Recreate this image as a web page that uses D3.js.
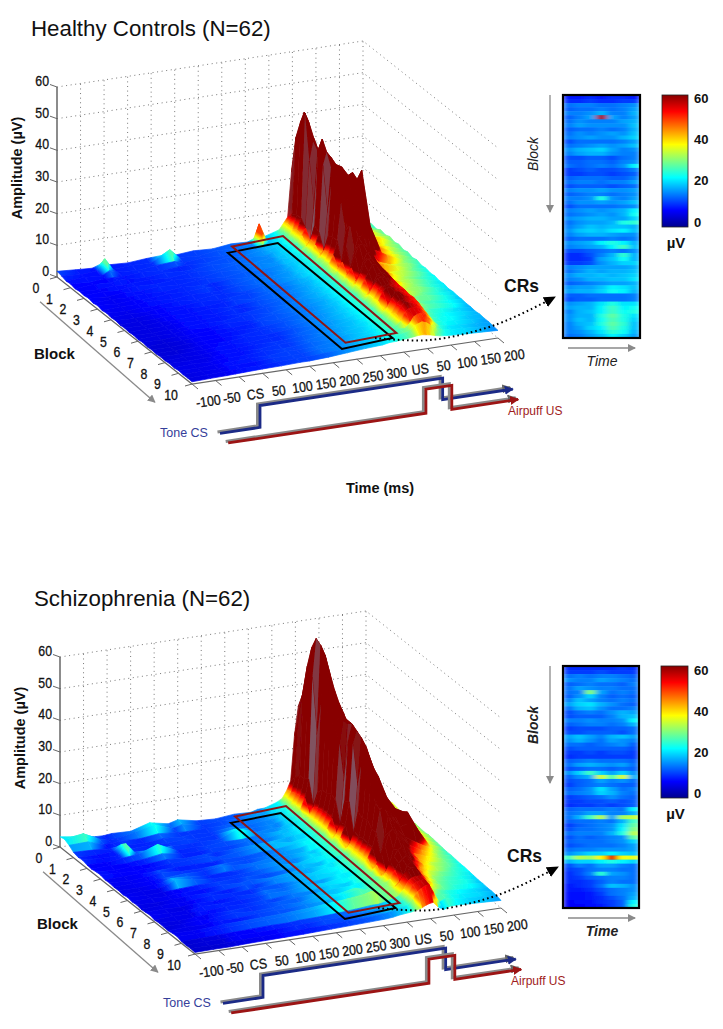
<!DOCTYPE html>
<html>
<head>
<meta charset="utf-8">
<script src="https://cdnjs.cloudflare.com/ajax/libs/d3/7.8.5/d3.min.js"></script>
<style>
  html, body { margin: 0; padding: 0; background: #fff; }
  text { font-family: "Liberation Sans", Arial, sans-serif; }
</style>
</head>
<body>
<div id="graph"></div>
<script>
// time positions of the surface columns, closer together where the response rises
const timeMs = [-100,-60,-25,-8,10,50,90,130,150,190,230,270,305,320,335,360,372,382,390,398,406,416,428,442,460,485,520,550];
// one row every third of a block
const blocks = [0,0.33,0.67,1,1.33,1.67,2,2.33,2.67,3,3.33,3.67,4,4.33,4.67,5,5.33,5.67,6,6.33,6.67,7,7.33,7.67,8,8.33,8.67,9,9.33,9.67,10];

const timeTicks = [-100,-50,0,50,100,150,200,250,300,350,400,450,500,550];
const timeTickLabels = ["-100","-50","CS","50","100","150","200","250","300","US","50","100","150","200"];
const blockTicks = [0,1,2,3,4,5,6,7,8,9,10];
const ampTicks = [0,10,20,30,40,50,60];
const barTicks = [0,20,40,60];

// amplitude surface, one row per block position
const controlsSurface = [
 [1.8,1.4,1.1,2.0,1.4,1.1,1.6,1.9,1.3,1.8,1.5,2.2,2.0,2.9,2.7,3.8,4.4,6.4,8,22,27,31,26,20,14,7,4.6,3.4],
 [1.5,0.9,1.3,4.8,1.0,1.5,1.2,4.6,1.7,1.3,2.0,1.8,2.6,8.5,3.1,3.2,5,7,10,34,36,30,29,25,12,7.8,5.2,3.9],
 [1.0,1.3,0.8,2.2,1.4,1.0,1.6,2.0,1.2,1.8,1.5,2.3,2.1,3.0,2.6,3.9,4.6,6.6,11,40,43,34,28,23,13,6.8,4.8,4.4],
 [1.2,0.8,1.2,1.1,1.0,1.5,1.1,1.5,1.6,1.3,2.0,1.9,2.7,2.4,3.2,3.4,5.2,7.4,11,44,41,36,31,26,11,7.6,5.6,4.0],
 [0.8,1.2,0.9,1.4,1.3,1.0,1.6,1.2,1.3,1.9,1.5,2.4,2.1,3.0,2.7,3.9,4.8,6.8,9,30,36,33,29,22,12.5,8.4,5.4,4.8],
 [1.1,0.7,1.3,1.0,1.1,1.4,1.1,1.6,1.7,1.2,2.1,1.8,2.6,2.5,3.3,3.3,3.8,4.6,6,16,34,34,30,25,11,7.4,6.2,4.4],
 [0.9,1.1,0.8,1.3,1.4,1.0,1.5,1.3,1.2,1.9,1.6,2.5,2.2,3.1,2.8,4.0,5.6,7.8,12,36,39,32,31,27,14,8.6,5.6,5.0],
 [1.2,0.7,1.2,0.9,1.0,1.5,1.0,1.6,1.7,1.3,2.1,1.9,2.7,2.4,3.3,3.5,5,7.2,11,32,36,34,28,26,12,7.2,6.4,4.4],
 [0.8,1.0,0.8,1.3,1.3,1.0,1.5,1.2,1.4,1.9,1.5,2.4,2.1,3.1,2.8,4.1,4,5.2,6.5,18,32,33,32,29,13,8.2,5.4,4.8],
 [1.1,0.7,1.1,0.9,1.0,1.4,1.2,1.7,1.5,1.3,2.2,2.0,2.8,2.5,3.4,3.6,5.4,7.8,12,30,31,30,30,31,15,7.0,5.8,4.2],
 [0.7,1.0,0.9,1.2,1.3,0.9,1.5,1.2,1.3,1.9,1.6,2.5,2.3,3.2,2.9,4.2,5.6,8,13,27,28,27,27,30,14,7.8,5.2,4.6],
 [1.0,0.6,1.1,0.8,1.0,1.4,1.0,1.6,1.6,1.2,2.2,1.9,2.9,2.6,3.5,3.7,5.8,8.4,13,25,25,26,28,34,16,6.6,5.6,4.0],
 [0.7,0.9,0.7,1.1,1.2,1.0,1.5,1.1,1.4,1.8,1.6,2.4,2.3,3.1,3.0,4.3,4.2,5.4,7,17,24,24,22,20,9.5,7.4,5.0,4.4],
 [0.9,0.6,1.0,0.8,1.0,1.3,1.1,1.5,1.7,1.2,2.2,2.0,2.9,2.6,3.5,3.8,5.8,8.6,13,20,21,20,17,10,6.8,5.4,5.2,3.8],
 [0.6,0.8,0.8,1.1,1.2,0.9,1.4,1.2,1.3,1.9,1.7,2.5,2.4,3.2,3.0,4.4,4.4,5.6,7.5,13,17,17.5,14,8,7.2,6.2,4.6,4.0],
 [0.8,0.6,0.9,0.8,0.9,1.3,1.0,1.6,1.5,1.3,2.2,2.0,3.0,2.7,3.6,3.8,6,9,13,16,16,15,11,7.4,5.8,5.8,4.8,3.6],
 [0.6,0.8,0.7,1.0,1.2,0.9,1.4,1.1,1.4,1.9,1.7,2.6,2.4,3.3,3.1,4.4,4.6,6,8,12,14.5,14,10,7.8,6.4,5.0,4.2,3.8],
 [0.8,0.5,0.9,0.8,0.9,1.3,1.0,1.6,1.7,1.3,2.3,2.1,3.0,2.8,3.7,3.9,6.2,9.4,12.5,14,13.5,12.5,10,6.8,5.4,5.4,4.4,3.4],
 [0.5,0.8,0.7,1.0,1.2,0.9,1.5,1.2,1.3,2.0,1.8,2.6,2.5,3.3,3.2,4.5,6,8.8,11,13,13,12,10,7.2,6,5,4,3.6],
 [0.8,0.6,0.9,0.7,1.0,1.2,1.1,1.5,1.8,1.4,2.3,2.2,3.1,2.9,3.8,4.0,4.6,6.2,8.4,11,11.5,11,9.6,6.6,5.2,5.2,4.2,3.2],
 [0.5,0.7,0.8,1.0,1.1,1.0,1.4,1.3,1.4,2.0,1.9,2.7,2.6,3.4,3.3,4.6,6.4,9.2,11,11.5,11,10,9.2,6.2,5.6,4.6,3.8,3.4],
 [0.7,0.6,0.8,0.8,1.0,1.2,1.1,1.6,1.7,1.5,2.4,2.3,3.2,3.0,3.8,4.1,6.2,9,10,10,10,9.6,9,5.8,5,4.8,4,3.2],
 [0.5,0.7,0.7,1.0,1.1,1.0,1.5,1.3,1.5,2.0,2.0,2.8,2.6,3.5,3.3,4.7,6.6,9.4,10.5,10.5,10,9.6,9,5.4,4.6,4.2,3.6,3.2],
 [0.7,0.6,0.9,0.8,1.0,1.3,1.1,1.6,1.6,1.6,2.4,2.4,3.2,3.1,3.9,4.2,4.8,6.4,8.4,10,10,9.4,8.6,5.6,4.8,4.4,3.8,3],
 [0.6,0.8,0.7,1.0,1.2,1.1,1.5,1.4,1.5,2.1,2.0,2.9,2.7,3.5,3.4,4.8,6.8,9.6,11,11,10,9.4,8.8,5.2,4.4,4,3.4,3.0],
 [0.8,0.7,0.9,0.9,1.1,1.3,1.2,1.7,1.7,1.7,2.5,2.5,3.3,3.2,4.0,4.3,6.2,9,10,10,9.6,9.2,8.4,4.8,4.2,3.8,3.4,2.8],
 [0.6,0.9,0.8,1.1,1.2,1.2,1.6,1.5,1.6,2.2,2.1,3.0,2.8,3.6,3.5,4.9,7,9.4,10.5,10,9.6,9,7.6,4.6,4,3.8,3.2,3],
 [0.9,0.7,1.0,1.0,1.2,1.4,1.3,1.8,1.8,1.9,2.5,2.6,3.4,3.3,4.1,4.4,6,8.8,9.6,9.6,9.4,8.6,7,4.4,3.9,3.6,3.2,2.8],
 [0.7,0.9,0.9,1.2,1.3,1.3,1.7,1.6,1.7,2.3,2.2,3.1,3.0,3.7,3.6,4.8,4.8,6.2,8,8.6,8.8,8,6,4.2,3.6,3.4,3,2.8],
 [0.8,0.8,1.0,1.1,1.3,1.3,1.6,1.8,1.8,2.1,2.6,2.8,3.4,3.5,4.0,4.6,5.2,6.4,7,7.4,7,6,4.8,4,3.6,3.4,3,2.6],
 [0.7,0.9,1.0,1.1,1.2,1.4,1.5,1.7,1.7,2.0,2.5,3.0,3.3,3.7,3.8,4.2,4.4,4.6,4.6,4.4,4.2,3.8,3.4,3.2,3.0,2.8,2.6,2.4]
];

const patientsSurface = [
 [3.2,2.4,1.6,1.5,1.8,1.6,3.4,2.2,3.0,1.8,1.5,2.1,1.9,2.5,2.6,3.8,4.8,7.2,10,24,33,30,27,26,21,14,6.8,5],
 [3.6,4.4,1.9,1.3,1.3,2.4,3.9,1.8,2.6,1.5,1.9,1.8,2.8,2.4,3.4,3.8,5.8,7.6,12,32,38,37,32,30,24,13,7.6,5.4],
 [2.8,3.0,1.3,1.5,1.7,1.5,2.2,1.7,1.5,1.7,1.7,2.3,2.2,2.8,2.9,4.0,5.2,8.4,14,41,48,44,36,32,25,14,7.2,5.8],
 [1.7,1.5,1.1,1.3,1.5,1.2,1.8,1.4,1.7,1.4,2.1,2.0,2.5,2.6,3.1,3.7,6,8.8,14,44,55,50,40,34,26,14.5,8,5.4],
 [1.3,1.0,1.4,3.2,1.4,1.5,1.5,1.8,1.4,1.7,2.6,2.2,2.3,2.5,3.3,4.2,5.6,9.2,15,47,59,55,43,36,27,14,7.6,6],
 [1.5,1.2,1.2,4.6,1.6,1.3,1.7,1.5,1.7,1.5,4.0,2.0,2.6,2.3,3.2,4.0,4.2,5.4,8,30,58,54,42,34,26,13,8.2,5.6],
 [1.1,0.9,1.5,1.8,2.0,4.2,1.4,1.6,1.3,1.9,1.8,2.5,2.6,3.0,3.3,4.1,5.4,8.6,13,42,56,50,41,35,25,13.5,7.8,6],
 [0.9,1.1,1.0,1.3,1.5,2.4,1.5,1.3,1.8,1.6,2.3,2.2,3.1,3.1,3.6,4.3,6.2,9.4,15,40,48,46,39,36,24,13,7.4,5.6],
 [1.2,0.8,1.2,1.1,1.2,1.7,1.2,1.5,1.6,1.8,2.1,2.4,2.9,3.3,3.4,4.5,6.6,9.8,15,38,43,43,37,36,23,12.5,7.6,5.4],
 [1.3,1.1,0.9,1.2,1.1,1.6,1.7,1.9,1.4,2.1,2.7,3.1,2.5,2.9,3.2,4.4,6.8,10,16,36,40,41,36,33,22,12,7.2,5.6],
 [0.9,1.0,1.2,1.0,1.3,1.4,1.5,1.4,1.9,1.6,2.2,2.5,3.3,3.5,3.7,4.5,6.4,9.6,15,33,40,38,35,30,20,11,7.4,5],
 [1.0,0.8,1.1,1.4,1.9,1.3,1.2,1.5,1.7,1.9,2.0,2.7,3.0,3.7,3.9,4.6,4.6,6,8.5,22,40,39,34,31,21,12,6.8,5.2],
 [0.8,1.0,1.0,1.2,1.3,1.7,1.6,2.4,2.0,1.8,2.4,2.7,2.8,2.9,3.5,4.5,7,10.5,17,36,41,37,33,28,19,12,7.2,5],
 [0.9,0.7,1.1,1.3,2.2,2.0,1.3,1.6,1.5,2.3,2.5,2.5,3.3,3.2,3.8,4.7,7,11,18,36,40,36,32,26,20,12.5,7,4.8],
 [0.7,0.9,0.9,1.6,3.0,2.1,1.5,1.4,1.7,2.1,2.7,2.3,3.5,3.4,4.0,4.9,4.8,6.2,9,24,39,36,30,26,19,13.5,6.8,5],
 [1.0,0.8,0.9,1.0,1.2,1.5,1.6,1.7,1.8,1.9,2.1,3.1,2.9,3.7,3.5,4.7,7.2,11,17,33,37,33,28,22,17,15,6.6,4.8],
 [0.7,0.9,0.7,1.1,1.1,1.3,1.8,1.5,2.0,1.7,2.3,2.9,3.1,3.5,3.7,4.6,7,10.5,16,30,33,30,26,20,15,16,6.4,4.6],
 [0.9,0.6,1.0,1.0,1.3,1.2,1.3,2.0,1.6,2.5,2.9,2.5,3.6,3.3,4.1,5,7.2,11,17,28,30,28,24,17,13,14,6.2,4.4],
 [0.6,0.8,1.0,0.8,1.1,1.6,1.4,1.6,1.7,2.1,2.2,3.3,3.0,3.8,4.1,4.8,7,10.5,15,23,25,23,19,14,11,8.6,5.6,4.2],
 [0.8,0.9,0.7,1.0,1.2,1.1,1.6,1.4,2.0,1.9,2.8,2.6,3.5,3.6,3.9,5,7.2,10.5,15,22,23,21,17,13,9.5,7.4,5.2,4.2],
 [1.0,0.7,0.8,0.9,1.4,1.3,1.5,1.8,2.3,2.2,3.0,2.8,3.7,3.4,3.8,4.9,5,6.4,9,15,21,19,15,11,8,6.6,5,4],
 [0.6,0.9,0.9,1.3,1.0,1.5,1.4,1.7,1.6,2.4,2.3,3.4,3.1,3.9,4.2,5.2,7.4,11,13,17,18,16,13,10,7.4,5.8,4.8,3.8],
 [0.8,0.6,0.8,1.0,1.2,1.2,1.6,1.9,1.8,2.2,2.6,3.2,3.3,3.7,4.4,5,5,6.4,8.5,13,17,15,12,9,6.8,5.6,4.4,3.8],
 [0.7,0.8,1.1,0.9,1.3,1.7,1.3,1.5,2.1,1.9,3.1,2.8,3.8,3.5,4.1,5,7.2,10.5,12,14,14.5,12,9.8,7.6,6,5,4.2,3.6],
 [0.6,0.9,0.7,1.2,1.4,1.2,1.8,2.0,1.7,2.5,2.5,3.7,4.6,4.1,4.7,5.3,6.4,9,11,12,13,11,8.6,6.8,5.4,4.6,4,3.4],
 [0.9,0.7,1.0,1.0,1.3,1.4,1.6,1.8,2.0,2.3,2.9,3.4,4.0,4.6,4.4,5.2,5.2,6.4,8,11,12,10,8,6.4,5,4.4,4,3.2],
 [1.0,1.0,1.3,1.4,1.6,1.9,2.1,2.3,2.5,2.9,3.7,4.8,5.2,5.6,4.8,5.5,7.4,10,11,11.5,11.7,9.6,7.4,5.8,4.8,4.2,3.8,3.2],
 [0.6,0.6,0.8,0.9,1.0,1.2,1.4,1.4,1.7,1.8,2.1,2.5,3.0,3.0,3.5,4.5,6.6,9,9.8,10,10,8.2,6,4.8,4.2,3.8,3.4,3.0],
 [0.5,0.7,0.7,1.0,1.1,1.1,1.2,1.6,1.5,1.9,1.9,2.3,2.7,3.1,3.3,4.3,6.2,8.8,9.6,9.8,10,7.4,4.8,4.6,4,3.6,3.4,3],
 [0.6,0.6,0.7,0.8,0.9,1.0,1.2,1.3,1.4,1.6,1.8,2.0,2.4,2.6,3.0,4.0,5.6,7.8,8.6,9.2,9.6,6.8,3.4,4.4,3.8,3.4,3.2,2.8],
 [0.5,0.6,0.6,0.7,0.8,0.9,1.0,1.1,1.2,1.4,1.6,1.8,2.0,2.2,2.6,3.0,3.4,3.8,4.4,4.8,5,3.4,2.2,3.0,3.0,2.8,2.6,2.4]
];

// CR window heatmaps in uV, 60 rows of 7 columns
const controlsHeat = [
 [9,9,10,9,10,10,9],[10,10,11,10,10,11,11],[14,15,15,14,14,15,16],[13,14,14,15,14,15,17],
 [15,15,16,18,15,15,18],[13,15,17,58,17,15,17],[14,16,15,15,15,17,18],[15,17,16,16,16,16,19],
 [13,14,14,15,14,15,18],[14,16,15,16,17,16,19],[15,16,17,16,16,18,20],[12,14,14,14,14,15,17],
 [14,15,16,17,16,17,19],[16,18,19,20,17,15,16],[15,17,18,18,16,15,15],[12,12,13,13,12,14,15],
 [13,13,14,14,13,15,16],[14,13,14,15,14,16,22],[11,12,13,12,12,13,15],[11,11,12,12,11,12,13],
 [13,14,14,14,13,13,15],[14,15,15,14,15,15,17],[12,13,13,13,12,13,14],[15,16,16,17,16,16,17],
 [13,14,15,15,14,15,16],[15,15,16,24,16,15,17],[14,16,16,17,16,17,19],[12,14,14,14,14,15,16],
 [15,16,17,16,17,18,22],[14,15,16,17,16,18,23],[16,17,18,18,17,17,20],[14,16,17,17,18,24,25],
 [15,17,19,18,19,19,18],[16,19,20,19,21,22,19],[15,17,18,18,17,16,16],[13,14,14,14,15,14,15],
 [16,17,18,22,24,22,18],[15,16,17,18,22,26,19],[12,12,13,14,15,14,16],[10,10,12,15,18,25,18],
 [10,10,11,17,19,23,18],[11,11,12,16,18,20,20],[15,16,17,17,17,17,18],[14,16,18,17,18,18,19],
 [16,18,18,19,18,19,20],[15,16,18,18,19,19,21],[13,14,15,16,17,17,18],[16,17,17,19,22,21,19],
 [17,18,18,20,23,22,18],[13,13,14,14,14,14,15],[12,13,13,14,14,14,15],[16,17,18,21,24,21,21],
 [17,18,18,22,26,22,23],[15,18,19,22,26,23,24],[16,18,18,24,28,24,21],[16,19,18,23,27,24,20],
 [15,18,19,24,28,25,19],[15,17,20,22,27,24,19],[15,16,18,21,25,23,18],[14,15,17,19,22,20,17]
];

const patientsHeat = [
 [10,10,10,10,10,11,10],[11,11,11,12,11,11,11],[14,15,14,15,15,14,13],[16,15,15,17,16,15,14],
 [13,14,15,14,14,13,15],[14,17,16,15,15,14,14],[14,15,30,17,14,15,14],[13,16,20,15,13,14,13],
 [15,19,17,15,14,15,14],[17,20,21,18,16,14,13],[14,18,19,16,14,14,15],[12,14,15,14,16,18,17],
 [12,13,13,13,15,18,19],[15,15,16,15,15,16,22],[13,14,15,15,14,15,18],[11,12,12,12,13,13,14],
 [12,12,13,13,13,12,14],[17,19,17,15,18,19,17],[16,18,16,14,17,16,15],[14,14,13,14,15,16,13],
 [12,13,13,13,13,13,12],[11,11,12,11,12,12,11],[10,11,11,11,11,11,11],[13,14,15,14,14,14,13],
 [14,17,18,17,16,17,14],[12,13,14,14,13,14,13],[16,20,26,20,17,20,16],[13,16,18,35,27,35,18],
 [12,13,14,17,15,16,14],[11,13,14,15,14,13,13],[13,14,16,21,17,14,15],[14,15,16,20,18,15,14],
 [11,12,13,14,16,14,13],[11,11,12,12,13,12,13],[10,11,11,12,11,12,13],[13,14,14,14,15,14,22],
 [14,15,17,17,15,15,18],[14,18,26,33,17,32,34],[13,14,14,15,14,18,26],[11,13,14,15,16,21,28],
 [12,14,14,15,16,22,30],[14,15,15,15,18,24,33],[12,14,13,14,15,16,28],[13,14,14,14,15,16,20],
 [12,13,14,14,14,15,17],[14,15,15,16,16,16,17],[16,18,20,20,22,20,19],[26,33,32,38,54,37,36],
 [18,20,20,22,24,22,20],[12,15,14,17,17,15,14],[11,12,14,15,15,14,14],[10,12,15,25,17,16,14],
 [10,11,13,14,15,15,14],[10,10,11,13,15,14,14],[9,10,11,14,19,18,16],[9,9,10,12,14,15,16],
 [8,8,9,11,14,15,17],[8,8,9,10,12,14,18],[7,8,8,10,11,13,22],[7,7,8,9,11,13,24]
];

// stimulus traces drawn under the floor: time, level, and the block line they run along
const csTime = [-85,0,0,388,388,537];
const csLevel = [-10.7,-10.7,-3.8,-3.8,-10.6,-10.6];
const usTime = [-69,351,351,406,406,547];
const usLevel = [-13.9,-13.9,-6.3,-6.3,-13.9,-13.9];

// CR window outlines on the surface
const redBox = { t: [272,380,380,272], b: [0,0,8.4,8.4], z: [1.3,2.2,0,-0.7] };
const blackBox = { t: [263,369,369,263], b: [0,0,8.5,8.45], z: [-0.5,0.25,-1,-2.3] };

// matlab jet
const jetStops = ["#00008f","#0000ff","#00ffff","#ffff00","#ff0000","#880000"];
const jetPos = [0,0.125,0.375,0.625,0.875,1];

const width = 723, height = 1029;

const svg = d3.select("#graph")
  .append("svg")
    .attr("width", width)
    .attr("height", height)
    .style("display", "block");

const defs = svg.append("defs");

defs.append("filter").attr("id", "soft")
    .attr("filterUnits", "userSpaceOnUse")
    .attr("x", 0).attr("y", 0).attr("width", width).attr("height", height)
  .append("feGaussianBlur").attr("stdDeviation", 0.5);

defs.append("filter").attr("id", "softHeat")
    .attr("filterUnits", "userSpaceOnUse")
    .attr("x", 0).attr("y", 0).attr("width", width).attr("height", height)
  .append("feGaussianBlur").attr("stdDeviation", "3 0.7");

function arrowMarker(id, color, w, h) {
  defs.append("marker").attr("id", id)
      .attr("markerUnits", "userSpaceOnUse")
      .attr("markerWidth", w).attr("markerHeight", h)
      .attr("refX", w - 1).attr("refY", h / 2)
      .attr("orient", "auto")
    .append("path")
      .attr("d", "M0,0L" + w + "," + (h / 2) + "L0," + h + "Z")
      .attr("fill", color);
}
arrowMarker("arrowGrey", "#8a8a8a", 8, 8);
arrowMarker("arrowBlue", "#1b2a86", 9, 9);
arrowMarker("arrowRed", "#9c1414", 9, 9);
arrowMarker("arrowDark", "#666", 9, 9);
arrowMarker("arrowBlack", "#000", 12, 11);

// the surface saturates near 10 uV, the bars run the full 0-60
const jetScale = d3.scaleLinear().domain(jetPos).range(jetStops).clamp(true);
const surfaceColor = d3.scaleLinear().domain([-0.2, 10.5]).range([0, 1]).clamp(true);
const heatColor = d3.scaleLinear().domain([0, 60]).range([0, 1]).clamp(true);

// oblique projection of the 3d box
const tX = d3.scaleLinear().domain([-100, 550]).range([0, 306]);
const tY = d3.scaleLinear().domain([-100, 550]).range([0, -46]);
const bX = d3.scaleLinear().domain([0, 10]).range([0, 135]);
const bY = d3.scaleLinear().domain([0, 10]).range([0, 107]);
const zY = d3.scaleLinear().domain([0, 60]).range([0, -190]);
const originX = 57, originY = 277;

function project(t, b, z) {
  return [originX + tX(t) + bX(b), originY + tY(t) + bY(b) + zY(z)];
}

const pathLine = d3.line();
let gradId = 0;

// tick text in the reference is tall and narrow
function tickText(panel, x, y, rotate, anchor, label) {
  panel.append("text")
    .attr("transform", "translate(" + x + "," + y + ") rotate(" + rotate + ") scale(0.88,1)")
    .attr("text-anchor", anchor)
    .attr("font-size", 14)
    .attr("fill", "#111").attr("stroke", "#111").attr("stroke-width", 0.3)
    .text(label);
}

function drawPanel(panel, surface) {
  // dotted walls
  const grid = panel.append("g")
      .attr("fill", "none")
      .attr("stroke", "#777")
      .attr("stroke-width", 1)
      .attr("stroke-dasharray", "1,3.6");
  ampTicks.forEach(function(z) {
    grid.append("path").attr("d", pathLine([project(-100,0,z), project(550,0,z), project(550,10,z)]));
  });
  timeTicks.slice(1).forEach(function(t) {
    grid.append("path").attr("d", pathLine([project(t,0,0), project(t,0,60)]));
  });

  // axes
  const axes = panel.append("g").attr("stroke", "#666").attr("fill", "none");
  axes.append("path").attr("stroke-width", 1.5).attr("d", pathLine([project(-100,0,0), project(-100,0,60)]));
  axes.append("path").attr("stroke-width", 1.2).attr("d", pathLine([project(-100,0,0), project(-100,10,0), project(550,10,0)]));

  ampTicks.forEach(function(z) {
    const p = project(-100,0,z);
    axes.append("path").attr("d", pathLine([p, [p[0]-7, p[1]-2.5]]));
    tickText(panel, p[0]-8, p[1]-1, 0, "end", z);
  });
  blockTicks.forEach(function(b) {
    const p = project(-100,b,0);
    axes.append("path").attr("d", pathLine([p, [p[0]-7, p[1]+2]]));
    tickText(panel, p[0]-21, p[1]+16, 0, "middle", b);
  });
  timeTicks.forEach(function(t, i) {
    const p = project(t,10,0);
    axes.append("path").attr("d", pathLine([p, [p[0]+6, p[1]+5]]));
    tickText(panel, p[0]+17, p[1]+22, -8, "middle", timeTickLabels[i]);
  });

  // surface, far rows first and right to left inside a row
  const mesh = panel.append("g").attr("filter", "url(#soft)");
  for (let i = 0; i < blocks.length - 1; i++) {
    for (let j = timeMs.length - 2; j >= 0; j--) {
      const h00 = surface[i][j], h01 = surface[i][j+1];
      const h10 = surface[i+1][j], h11 = surface[i+1][j+1];
      const a = project(timeMs[j], blocks[i], h00);
      const b = project(timeMs[j+1], blocks[i], h01);
      const c = project(timeMs[j+1], blocks[i+1], h11);
      const d = project(timeMs[j], blocks[i+1], h10);
      // colour along time only, the higher of the two rows shows
      const left = Math.max(h00, h10), right = Math.max(h01, h11);
      const id = "cell" + (gradId++);
      const g = defs.append("linearGradient").attr("id", id)
          .attr("gradientUnits", "userSpaceOnUse")
          .attr("x1", (a[0]+d[0])/2).attr("y1", (a[1]+d[1])/2)
          .attr("x2", (b[0]+c[0])/2).attr("y2", (b[1]+c[1])/2);
      const stops = Math.abs(left-right) > 1 ? 9 : 2;
      d3.range(stops).forEach(function(s) {
        const f = s/(stops-1);
        g.append("stop").attr("offset", f)
          .attr("stop-color", jetScale(surfaceColor(left + (right-left)*f)));
      });
      const quad = pathLine([a,b,c,d]) + "Z";
      mesh.append("path").attr("d", quad)
        .attr("fill", "url(#" + id + ")")
        .attr("stroke", "url(#" + id + ")")
        .attr("stroke-width", 0.7)
        .attr("stroke-linejoin", "round");
      // sheen where the rising face folds between rows
      const fold = Math.abs((h00+h01)-(h10+h11))/2;
      if (fold > 5 && h01-h00 > 3 && h11-h10 > 3) {
        mesh.append("path").attr("d", quad)
          .attr("fill", "#7c8094")
          .attr("opacity", Math.min(0.65, (fold-5)/9));
      }
    }
  }

  // CR windows
  [[blackBox, "#000"], [redBox, "#8c1515"]].forEach(function(item) {
    const box = item[0];
    panel.append("path")
      .attr("d", pathLine(box.t.map(function(t, i) { return project(t, box.b[i], box.z[i]); })) + "Z")
      .attr("fill", "none")
      .attr("stroke", item[1])
      .attr("stroke-width", 2);
  });

  // block direction arrow
  panel.append("path")
    .attr("d", pathLine([project(-136,0,-7), project(-136,8.5,-10)]))
    .attr("fill", "none").attr("stroke", "#8a8a8a").attr("stroke-width", 1.3)
    .attr("marker-end", "url(#arrowGrey)");

  // stimulus traces
  function trace(times, levels, blockLine, color, marker) {
    const pts = times.map(function(t, i) { return project(t, blockLine, levels[i]); });
    panel.append("path")
      .attr("d", pathLine(pts.map(function(p) { return [p[0]-2.5, p[1]-1.5]; })))
      .attr("fill", "none").attr("stroke", "#8a8a8a").attr("stroke-width", 3)
      .attr("marker-end", "url(#arrowDark)");
    panel.append("path")
      .attr("d", pathLine(pts))
      .attr("fill", "none").attr("stroke", color).attr("stroke-width", 2.8)
      .attr("marker-end", "url(#" + marker + ")");
  }
  trace(csTime, csLevel, 11.55, "#1b2a86", "arrowBlue");
  trace(usTime, usLevel, 11.6, "#9c1414", "arrowRed");

  panel.append("text").attr("x", 160).attr("y", 437)
    .attr("font-size", 12.5).attr("fill", "#35409a").text("Tone CS");
  panel.append("text").attr("x", 508).attr("y", 415)
    .attr("font-size", 12).attr("fill", "#a01c1c").text("Airpuff US");

  panel.append("text")
    .attr("transform", "translate(22,168) rotate(-90)")
    .attr("text-anchor", "middle")
    .attr("font-size", 14.5).attr("font-weight", "bold").attr("fill", "#111")
    .text("Amplitude (µV)");
  panel.append("text").attr("x", 34).attr("y", 359)
    .attr("font-size", 15).attr("font-weight", "bold").attr("fill", "#111")
    .text("Block");
  panel.append("text").attr("x", 504).attr("y", 292)
    .attr("font-size", 17.5).attr("font-weight", "bold").attr("fill", "#111")
    .text("CRs");

  // dotted pointer from the window to the heatmap
  panel.append("path")
    .attr("d", d3.line().curve(d3.curveCatmullRom)([[375,338],[430,340],[495,325],[555,297]]))
    .attr("fill", "none").attr("stroke", "#000").attr("stroke-width", 2)
    .attr("stroke-dasharray", "1.6,3")
    .attr("marker-end", "url(#arrowBlack)");
}

function drawHeat(group, values, x0, y0, w, h) {
  const x = d3.scaleBand().domain(d3.range(values[0].length)).range([x0, x0+w]);
  const y = d3.scaleBand().domain(d3.range(values.length)).range([y0, y0+h]);
  const cid = "heatClip" + y0;
  defs.append("clipPath").attr("id", cid)
    .append("rect").attr("x", x0).attr("y", y0).attr("width", w).attr("height", h);
  const cells = group.append("g").attr("clip-path", "url(#" + cid + ")")
    .append("g").attr("filter", "url(#softHeat)");
  values.forEach(function(row, r) {
    row.forEach(function(v, c) {
      cells.append("rect")
        .attr("x", x(c)).attr("y", y(r))
        .attr("width", x.bandwidth()+0.5).attr("height", y.bandwidth()+0.5)
        .attr("fill", jetScale(heatColor(v)));
    });
  });
  group.append("rect")
    .attr("x", x0).attr("y", y0).attr("width", w).attr("height", h)
    .attr("fill", "none").attr("stroke", "#000").attr("stroke-width", 2.2);
}

function drawColorBar(group, x0, y0, w, h, tickTop, tickBottom) {
  const id = "bar" + y0;
  const g = defs.append("linearGradient").attr("id", id)
      .attr("x1", 0).attr("y1", 1).attr("x2", 0).attr("y2", 0);
  jetPos.forEach(function(p, i) {
    g.append("stop").attr("offset", p).attr("stop-color", jetStops[i]);
  });
  group.append("rect")
    .attr("x", x0).attr("y", y0).attr("width", w).attr("height", h)
    .attr("fill", "url(#" + id + ")").attr("stroke", "#222").attr("stroke-width", 0.8);
  const scale = d3.scaleLinear().domain([0, 60]).range([tickBottom, tickTop]);
  const axis = group.append("g")
    .attr("transform", "translate(" + (x0+w+3) + ",0)")
    .call(d3.axisRight(scale).tickValues(barTicks).tickSize(0));
  axis.select(".domain").remove();
  axis.selectAll("text")
    .attr("font-size", 13).attr("font-weight", "bold").attr("fill", "#111")
    .style("font-family", '"Liberation Sans", Arial, sans-serif');
  group.append("text")
    .attr("x", x0+w/2+1).attr("y", y0+h+21)
    .attr("text-anchor", "middle")
    .attr("font-size", 15).attr("font-weight", "bold").attr("fill", "#111")
    .text("µV");
}

function drawHeatLabels(group, x0, y0, w, h, bold) {
  group.append("path")
    .attr("d", pathLine([[x0-13, y0], [x0-13, y0+117]]))
    .attr("stroke", "#8a8a8a").attr("stroke-width", 1.3).attr("fill", "none")
    .attr("marker-end", "url(#arrowGrey)");
  group.append("path")
    .attr("d", pathLine([[x0+5, y0+h+10], [x0+72, y0+h+10]]))
    .attr("stroke", "#8a8a8a").attr("stroke-width", 1.3).attr("fill", "none")
    .attr("marker-end", "url(#arrowGrey)");
  group.append("text")
    .attr("transform", "translate(" + (x0-25) + "," + (y0+59) + ") rotate(-90)")
    .attr("text-anchor", "middle")
    .attr("font-size", 14).attr("font-style", "italic")
    .attr("font-weight", bold ? "bold" : "normal").attr("fill", "#222")
    .text("Block");
  group.append("text")
    .attr("x", x0+39).attr("y", y0+h+28)
    .attr("text-anchor", "middle")
    .attr("font-size", 14).attr("font-style", "italic")
    .attr("font-weight", bold ? "bold" : "normal").attr("fill", "#222")
    .text("Time");
}

// panels share one geometry, the lower one is just shifted
const top3d = svg.append("g");
drawPanel(top3d, controlsSurface);
const bottom3d = svg.append("g").attr("transform", "translate(3,570)");
drawPanel(bottom3d, patientsSurface);

drawHeat(svg, controlsHeat, 563, 95, 77, 243);
drawHeatLabels(svg, 563, 95, 77, 243, false);
drawColorBar(svg, 662, 95, 26, 132, 98, 222);

drawHeat(svg, patientsHeat, 563, 666, 76, 242);
drawHeatLabels(svg, 563, 666, 76, 242, true);
drawColorBar(svg, 661, 666, 27, 132, 670, 793);

svg.append("text").attr("x", 31).attr("y", 36)
  .attr("font-size", 22.3).attr("fill", "#111").text("Healthy Controls (N=62)");
svg.append("text").attr("x", 34).attr("y", 606)
  .attr("font-size", 22.3).attr("fill", "#111").text("Schizophrenia (N=62)");
svg.append("text").attr("x", 380).attr("y", 493)
  .attr("text-anchor", "middle")
  .attr("font-size", 14.5).attr("font-weight", "bold").attr("fill", "#111").text("Time (ms)");
</script>
</body>
</html>
